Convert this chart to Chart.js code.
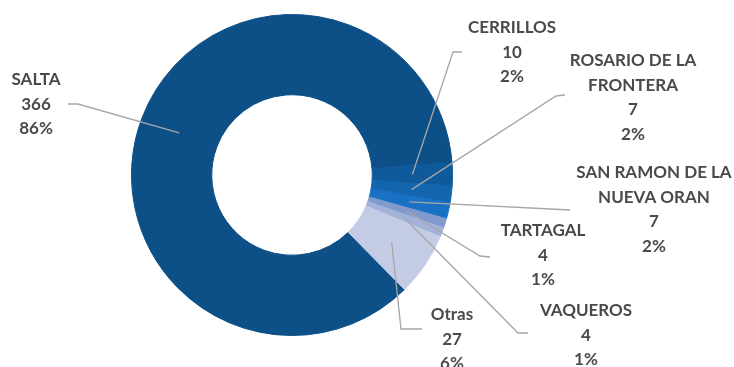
<!DOCTYPE html>
<html>
<head>
<meta charset="utf-8">
<script src="https://cdn.jsdelivr.net/npm/chart.js@4.4.0/dist/chart.umd.min.js"></script>
<style>
  html, body { margin: 0; padding: 0; background: #ffffff; }
  #donut { display: block; }
</style>
</head>
<body>
<canvas id="donut" width="734" height="367"></canvas>
<script>
// Localidades y cantidad de casos
const localidades = ['SALTA', 'CERRILLOS', 'ROSARIO DE LA FRONTERA', 'SAN RAMON DE LA NUEVA ORAN', 'TARTAGAL', 'VAQUEROS', 'Otras'];
const casos = [366, 10, 7, 7, 4, 4, 27];
const colores = ['#0d4f87', '#0f5a9b', '#1365ae', '#1871c2', '#8199cc', '#a3b2d8', '#c3cce4'];

// Where each label block sits and how its leader line bends
const etiquetas = [
  { x: 36,  y: 80,  wrap: 170, bend: [[68, 104], [78, 104]] },
  { x: 512, y: 28,  wrap: 170, bend: [[462, 52], [453, 52]] },
  { x: 633, y: 61,  wrap: 150, bend: [[565, 95], [556, 96]] },
  { x: 654, y: 173, wrap: 180, bend: [[570, 210]] },
  { x: 543, y: 231, wrap: 170, bend: [[490, 257], [480, 256]] },
  { x: 586, y: 311, wrap: 170, bend: [[528, 333], [518, 333]] },
  { x: 452, y: 315, wrap: 170, bend: [[422, 329], [401, 329]] }
];

const total = casos.reduce((a, b) => a + b, 0);
const FONT = 'bold 17px Lato, "Open Sans", sans-serif';
const LINE_H = 24.5;

// Split a name into lines no wider than maxW
function wrapText(ctx, text, maxW) {
  const words = text.split(' ');
  const lines = [];
  let cur = '';
  words.forEach(w => {
    const test = cur ? cur + ' ' + w : w;
    if (cur && ctx.measureText(test).width > maxW) {
      lines.push(cur);
      cur = w;
    } else {
      cur = test;
    }
  });
  if (cur) lines.push(cur);
  return lines;
}

// Draws leader lines and the name / value / percent labels
const etiquetasPlugin = {
  id: 'etiquetas',
  afterDraw(chart) {
    const ctx = chart.ctx;
    const meta = chart.getDatasetMeta(0);
    ctx.save();
    ctx.font = FONT;
    meta.data.forEach((arc, i) => {
      const p = arc.getProps(['x', 'y', 'startAngle', 'endAngle', 'innerRadius', 'outerRadius'], true);
      const mid = (p.startAngle + p.endAngle) / 2;
      const r = (p.innerRadius + p.outerRadius) / 2;
      const ax = p.x + Math.cos(mid) * r;
      const ay = p.y + Math.sin(mid) * r;
      const cfg = etiquetas[i];

      ctx.strokeStyle = '#a6a6a6';
      ctx.lineWidth = 1.3;
      ctx.beginPath();
      ctx.moveTo(cfg.bend[0][0], cfg.bend[0][1]);
      cfg.bend.slice(1).forEach(pt => ctx.lineTo(pt[0], pt[1]));
      ctx.lineTo(ax, ay);
      ctx.stroke();

      const lines = wrapText(ctx, localidades[i], cfg.wrap);
      lines.push(String(casos[i]));
      lines.push(Math.round(casos[i] / total * 100) + '%');
      ctx.fillStyle = '#4a4a4a';
      ctx.textAlign = 'center';
      ctx.textBaseline = 'middle';
      lines.forEach((t, k) => ctx.fillText(t, cfg.x, cfg.y + k * LINE_H));
    });
    ctx.restore();
  }
};

const ctx = document.getElementById('donut').getContext('2d');
const donut = new Chart(ctx, {
  type: 'doughnut',
  data: {
    labels: localidades,
    datasets: [{
      data: casos,
      backgroundColor: colores,
      borderColor: colores, // same colour as the fill hides the seams between slices
      borderWidth: 1
    }]
  },
  options: {
    responsive: false,
    animation: false,
    rotation: 135.5,
    cutout: '50%',
    layout: { padding: { left: 131, right: 281, top: 14, bottom: 31 } },
    plugins: {
      legend: { display: false },
      tooltip: { enabled: false }
    }
  },
  plugins: [etiquetasPlugin]
});
</script>
</body>
</html>
